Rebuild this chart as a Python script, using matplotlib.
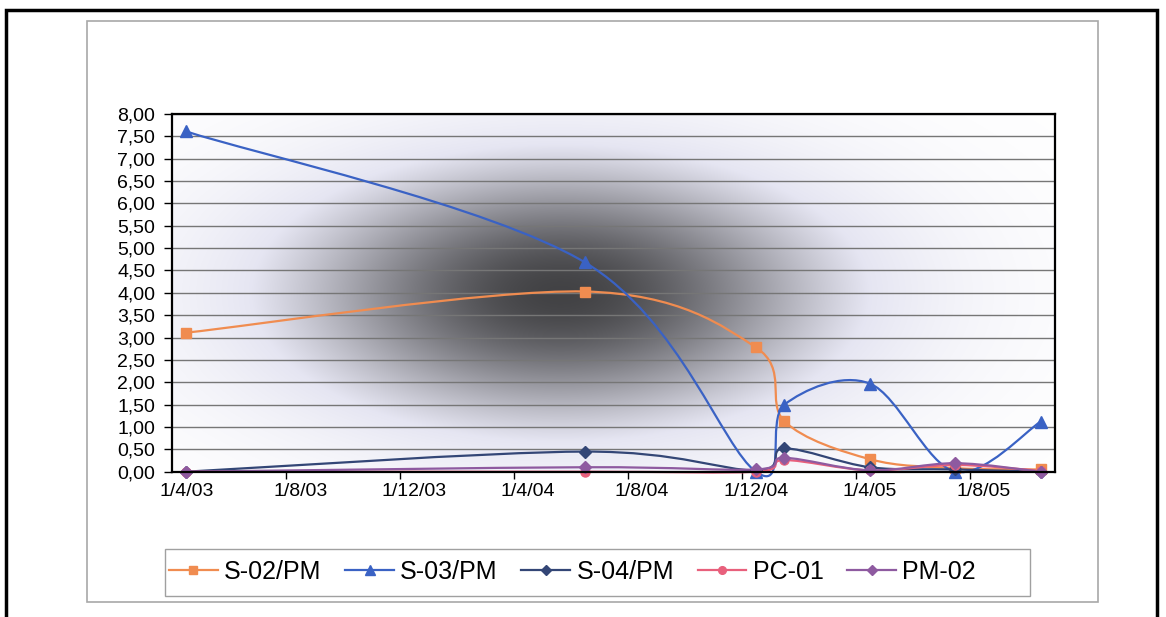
import numpy as np
import matplotlib.pyplot as plt
from matplotlib.path import Path
from matplotlib.patches import PathPatch, Rectangle
from matplotlib.lines import Line2D

plt.rcParams['font.family'] = ['Liberation Sans', 'DejaVu Sans']

# fechas de muestreo (d/m/aa) y concentraciones por punto
fechas = ['1/4/03', '1/6/04', '1/12/04', '1/1/05', '1/4/05', '1/7/05', '1/10/05']
s02_pm = [3.11, 4.03, 2.78, 1.13, 0.28, 0.08, 0.05]
s03_pm = [7.61, 4.68, 0.00, 1.50, 1.97, 0.00, 1.12]
s04_pm = [0.00, 0.45, 0.03, 0.52, 0.10, 0.05, 0.00]
pc_01 = [0.00, 0.00, 0.00, 0.26, 0.03, 0.15, 0.02]
pm_02 = [0.00, 0.10, 0.05, 0.31, 0.03, 0.19, 0.00]

etiquetas_x = ['1/4/03', '1/8/03', '1/12/03', '1/4/04', '1/8/04', '1/12/04', '1/4/05', '1/8/05']
nombres = ['S-02/PM', 'S-03/PM', 'S-04/PM', 'PC-01', 'PM-02']
colores = ['#F08C50', '#3A62C4', '#334676', '#E8607C', '#8E5AA0']
marcas = ['s', '^', 'D', 'o', 'D']
tam_marca = [7, 8.5, 6, 6.5, 6]


def mes(fecha):
    # meses desde abril de 2003
    d, m, a = map(int, fecha.split('/'))
    return (2000 + a - 2003) * 12 + m - 4


def curva(x, y):
    # linea suavizada tipo Excel (bezier con tension 1/6)
    p = np.column_stack([x, y]).astype(float)
    pts = np.vstack([p[0], p, p[-1]])
    verts = [p[0]]
    codes = [Path.MOVETO]
    for i in range(1, len(pts) - 2):
        c1 = pts[i] + (pts[i + 1] - pts[i - 1]) / 6
        c2 = pts[i + 1] - (pts[i + 2] - pts[i]) / 6
        verts += [c1, c2, pts[i + 1]]
        codes += [Path.CURVE4] * 3
    return Path(verts, codes)


x = [mes(f) for f in fechas]
series = [s02_pm, s03_pm, s04_pm, pc_01, pm_02]

fig = plt.figure(figsize=(11.66, 6.17), dpi=100)
W, H = 1166, 617
ax = fig.add_axes([172 / W, (H - 471.7) / H, (1055 - 172) / W, (471.7 - 114) / H])

# fondo degradado desde el centro
gx, gy = np.meshgrid(np.linspace(0, 1, 500), np.linspace(0, 1, 250))
k = np.exp(-(((gx - 0.44) / 0.32) ** 2 + ((gy - 0.5) / 0.38) ** 2))
blanco = np.array([1.0, 1.0, 1.0])
lila = np.array([0.90, 0.90, 0.95])
oscuro = np.array([0.26, 0.26, 0.27])
t1 = np.clip(k / 0.3, 0, 1)[..., None]
t2 = np.clip((k - 0.3) / 0.7, 0, 1)[..., None]
fondo = blanco * (1 - t1) + lila * t1
fondo = fondo * (1 - t2) + oscuro * t2
ax.imshow(fondo, extent=[0, 1, 0, 1], transform=ax.transAxes, aspect='auto',
          origin='lower', zorder=0, interpolation='bilinear')

ax.set_xlim(-0.5, 30.5)
ax.set_ylim(0, 8)
ax.set_yticks(np.arange(0, 8.01, 0.5))
ax.set_yticklabels([f'{v:.2f}'.replace('.', ',') for v in np.arange(0, 8.01, 0.5)])
ax.yaxis.grid(True, color='#767676', linewidth=1.0, zorder=1)
ax.set_axisbelow(False)

ax.set_xticks(np.arange(0, 29, 4))
ax.set_xticklabels(etiquetas_x)
ax.set_xticks(np.arange(3.5, 30, 4), minor=True)
ax.tick_params(axis='x', which='major', length=0, pad=8, labelsize=14)
ax.tick_params(axis='x', which='minor', length=5, width=1, direction='out')
ax.tick_params(axis='y', length=6, width=1, direction='out', pad=6, labelsize=14)

for lado in ax.spines.values():
    lado.set_color('black')
    lado.set_linewidth(1.6)
    lado.set_zorder(5)

for serie, color, marca, tam in zip(series, colores, marcas, tam_marca):
    ax.add_patch(PathPatch(curva(x, serie), facecolor='none', edgecolor=color,
                           linewidth=1.6, zorder=3, clip_on=False))
    ax.plot(x, serie, linestyle='none', marker=marca, color=color,
            markersize=tam, zorder=4, clip_on=False)

handles = [Line2D([], [], color=c, marker=m, markersize=s * 0.85, linewidth=1.6)
           for c, m, s in zip(colores, marcas, tam_marca)]
fig.legend(handles, nombres, loc='center left', bbox_to_anchor=(169 / W, 1 - 572 / H),
           ncol=5, fontsize=18, frameon=False, handlelength=1.95,
           columnspacing=0.95, handletextpad=0.25, borderpad=0, borderaxespad=0)

# marcos: leyenda, area del grafico y borde exterior
fig.patches.append(Rectangle((165 / W, (H - 596) / H), (1030 - 165) / W, (596 - 549) / H,
                             fill=False, edgecolor='#a0a0a0', linewidth=1.0,
                             transform=fig.transFigure, figure=fig))
fig.patches.append(Rectangle((87 / W, (H - 602) / H), (1098 - 87) / W, (602 - 21) / H,
                             fill=False, edgecolor='#a8a8a8', linewidth=1.2,
                             transform=fig.transFigure, figure=fig))
fig.patches.append(Rectangle((6 / W, -0.05), (1157 - 6) / W, (H - 10) / H + 0.05,
                             fill=False, edgecolor='black', linewidth=2.5,
                             transform=fig.transFigure, figure=fig))

fig.savefig('out.png', dpi=100)
